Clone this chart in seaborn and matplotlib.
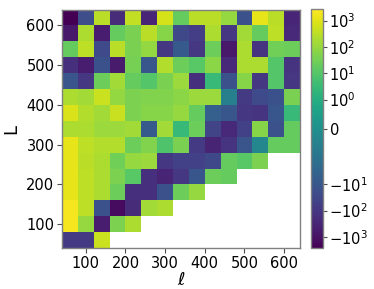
import numpy as np
import pandas as pd
import matplotlib
matplotlib.use("Agg")
import matplotlib.pyplot as plt
from matplotlib.colors import SymLogNorm
import seaborn as sns

nan = np.nan
# ell bin centres (columns) and L bin centres (rows, top to bottom)
ell_centers = [60, 100, 140, 180, 220, 260, 300, 340, 380, 420, 460, 500, 540, 580, 620]
L_centers = [620, 580, 540, 500, 460, 420, 380, 340, 300, 260, 220, 180, 140, 100, 60]

row_620 = [-2500, -20, 300, -200, 400, -300, 700, 20, 300, 300, 100, -15, 1200, 300, -300]
row_580 = [-700, 200, -500, 20, 40, 300, 60, -30, -60, 200, -100, 150, 20, 350, -250]
row_540 = [20, 350, -25, 300, 40, 90, -100, -8, -100, 25, -700, 200, -120, 30, 25]
row_500 = [-150, -500, -15, -600, 35, -10, 250, 25, 12, 70, -250, 200, 200, 10, -120]
row_460 = [-12, -100, 25, 150, 20, 10, 40, 120, -150, 3, -15, 60, -100, 10, -100]
row_420 = [200, 150, 500, 90, 45, 50, 50, 70, 120, 120, -0.6, -80, -25, -15, 40]
row_380 = [800, 250, 150, 450, 45, 60, 60, 100, 20, -5, -10, -100, -120, -10, 3]
row_340 = [200, 200, 120, 120, 150, -8, 150, 3, 25, -40, -250, -50, 60, -15, 20]
row_300 = [1200, 350, 250, 250, 25, 50, 8, 40, -80, -350, -120, -12, -0.3, 20, 20]
row_260 = [1200, 300, 200, 30, 100, 120, -100, -50, -50, -30, 20, 12, 45, nan, nan]
row_220 = [1200, 350, 200, 45, 12, -150, -350, -100, -10, 25, 20, nan, nan, nan, nan]
row_180 = [1200, 350, 200, 25, -150, -150, -15, 25, 100, nan, nan, nan, nan, nan, nan]
row_140 = [2000, 350, -15, -1500, -200, 150, 200, nan, nan, nan, nan, nan, nan, nan, nan]
row_100 = [2000, 100, -500, 45, 200, nan, nan, nan, nan, nan, nan, nan, nan, nan, nan]
row_60 = [-80, -80, 500, nan, nan, nan, nan, nan, nan, nan, nan, nan, nan, nan, nan]

rows = [row_620, row_580, row_540, row_500, row_460, row_420, row_380, row_340,
        row_300, row_260, row_220, row_180, row_140, row_100, row_60]

x_ticks = [100, 200, 300, 400, 500, 600]
y_ticks = [100, 200, 300, 400, 500, 600]
cbar_ticks = [-1000, -100, -10, 0, 1, 10, 100, 1000]
cbar_labels = [r"$-10^{3}$", r"$-10^{2}$", r"$-10^{1}$", r"$0$",
               r"$10^{0}$", r"$10^{1}$", r"$10^{2}$", r"$10^{3}$"]

df = pd.DataFrame(rows, index=L_centers, columns=ell_centers)

fig = plt.figure(figsize=(3.74, 2.89), dpi=100)
ax = fig.add_axes([62 / 374, 1 - 248 / 289, 238 / 374, 238.5 / 289])
cax = fig.add_axes([311 / 374, 1 - 248.3 / 289, 11.5 / 374, 239 / 289])

norm = SymLogNorm(linthresh=1, linscale=1, vmin=-2700, vmax=2700, base=10)
sns.heatmap(df, ax=ax, cbar_ax=cax, cmap="viridis", norm=norm,
            xticklabels=False, yticklabels=False, square=False,
            cbar_kws={"ticks": cbar_ticks})

# map tick values to heatmap cell coordinates (bins of width 40 starting at 40)
x0, w = 40, 40
ax.set_xticks([(v - x0) / w for v in x_ticks])
ax.set_xticklabels([str(v) for v in x_ticks], fontsize=10.5)
ax.set_yticks([(640 - v) / w for v in y_ticks])
ax.set_yticklabels([str(v) for v in y_ticks], fontsize=10.5, rotation=0)
ax.tick_params(axis="both", length=3.5, width=0.8, color="0.3", pad=2)
ax.set_xlabel(r"$\ell$", fontsize=13, labelpad=0)
ax.set_ylabel("L", fontsize=13, labelpad=4)
for s in ax.spines.values():
    s.set_visible(True)
    s.set_color("0.5")
    s.set_linewidth(1.0)

cb = ax.collections[0].colorbar
cb.set_ticks(cbar_ticks)
cb.set_ticklabels(cbar_labels)
cb.ax.tick_params(labelsize=10.5, length=3, width=0.8, color="0.3", pad=2)
cb.ax.minorticks_off()
cb.outline.set_visible(True)
cb.outline.set_edgecolor("0.5")
cb.outline.set_linewidth(1.0)

fig.savefig("out.png", dpi=100)
